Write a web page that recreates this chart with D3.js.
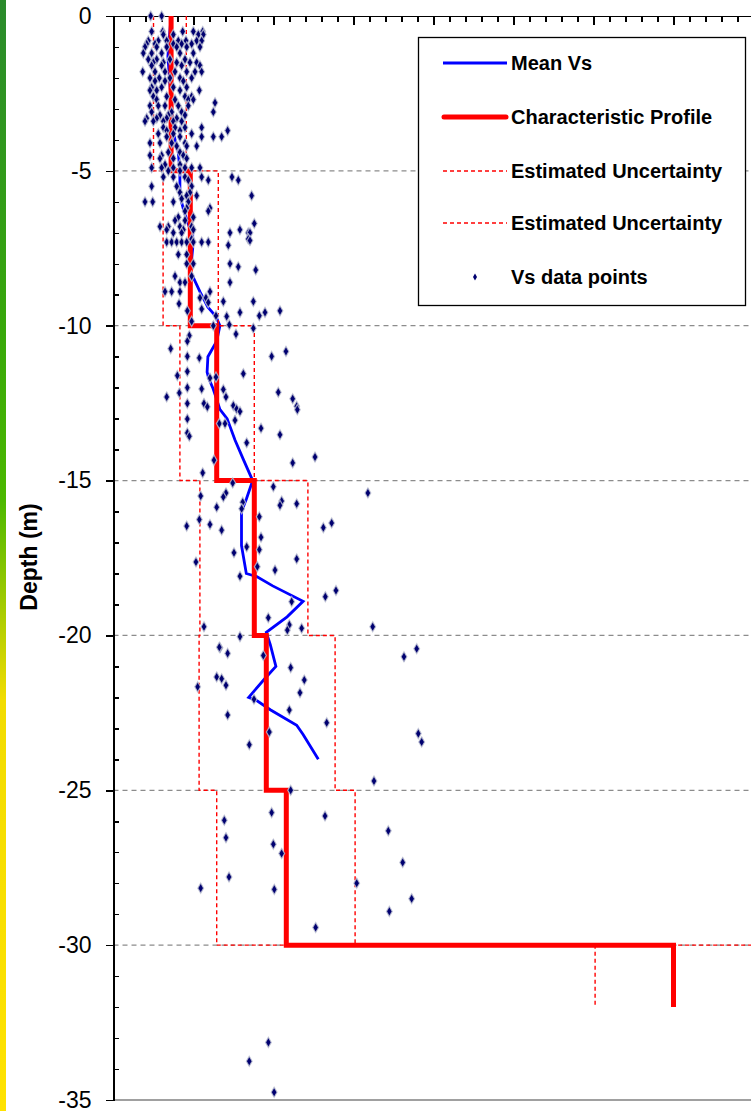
<!DOCTYPE html>
<html>
<head>
  <meta charset="utf-8">
  <title>Vs profile</title>
  <script src="https://d3js.org/d3.v7.min.js"></script>
  <style>
    body { margin: 0; background: #fff; }
    svg { display: block; font-family: "Liberation Sans", Arial, sans-serif; }
    .axis path, .axis line { fill: none; stroke: #000; stroke-width: 1.5; shape-rendering: crispEdges; }
    .ylab text { font-size: 23px; fill: #000; }
  </style>
</head>
<body>
<div id="chart"></div>
<script>
// layer boundaries (m) and the step profiles (Vs, m/s)
var layerTop    = [0, -5, -10, -15, -20, -25, -30];
var layerBottom = [-5, -10, -15, -20, -25, -30, -32];
var charVs  = [72, 96, 129, 176, 191, 216, 700];
var lowerVs = [50, 62, 83, 108, 107, 129, 602];
var upperVs = [91, 131, 176, 243, 277, 302, 900];

// mean Vs line
var meanDepth = [0, -1.3, -3.8, -4.4, -5, -5.8, -6.3, -6.9, -7.0, -7.5, -8.3, -8.4, -8.9, -9.4, -9.7, -10,
  -10.5, -11, -11.5, -11.7, -12, -12.3, -12.7, -13, -13.7, -14.3, -15, -15.6, -16, -17.1, -18, -18.1,
  -18.4, -18.9, -19.4, -19.9, -20.3, -21, -21.4, -22, -22.1, -22.4, -22.9, -23.2, -24];
var meanVs = [72, 68, 75, 81, 83, 83, 88, 96, 99, 99, 96, 99, 108, 118, 128, 133,
  129, 118, 117, 119, 124, 128, 133, 142, 152, 162, 174, 166, 160, 160, 166, 179,
  199, 237, 217, 191, 196, 203, 189, 169, 179, 196, 229, 237, 256];

// measured Vs points [Vs, depth]
var vsPoints = [
  [46.5,0],[60.2,0],
  [47.7,-0.5],[61.5,-0.5],[86.5,-0.5],[99.8,-0.5],[111.5,-0.5],
  [62.3,-0.6],[74.8,-0.6],[106,-0.6],[112.3,-0.6],
  [43.5,-0.8],[56,-0.8],[66.5,-0.8],[81,-0.8],[90.6,-0.8],[104,-0.8],[110.2,-0.8],
  [41.5,-0.9],[51.9,-0.9],[74.8,-0.9],[85.2,-0.9],[97.7,-0.9],
  [39.4,-1],[54,-1],[66.5,-1],[79,-1],[91.5,-1],[108.1,-1],
  [37.3,-1.2],[47.7,-1.2],[60.2,-1.2],[83.1,-1.2],[99.8,-1.2],
  [43.5,-1.4],[54,-1.4],[70.6,-1.4],[89.4,-1.4],
  [49.8,-1.5],[62.3,-1.5],[79,-1.5],[95.6,-1.5],[104,-1.5],
  [47.7,-1.6],[60.2,-1.6],[85.2,-1.6],[108.1,-1.6],
  [36.5,-1.8],[51.9,-1.8],[64.4,-1.8],[76.9,-1.8],[91.5,-1.8],[101.9,-1.8],[110.2,-1.8],
  [45.6,-2],[57.3,-2],[70.6,-2],[83.1,-2],[97.7,-2],
  [51.9,-2.1],[64.4,-2.1],[87.3,-2.1],
  [47.7,-2.3],[60.2,-2.3],[74.8,-2.3],[91.5,-2.3],
  [45.6,-2.4],[54,-2.4],[83.1,-2.4],[107.3,-2.4],
  [49.8,-2.6],[66.5,-2.6],[89.4,-2.6],[97.7,-2.6],
  [54,-2.7],[76.9,-2.7],[93.5,-2.7],[99.8,-2.7],
  [126.9,-2.8],
  [45.6,-2.9],[56,-2.9],[64.4,-2.9],[81,-2.9],[93.5,-2.9],
  [47.7,-3.1],[72.7,-3.1],[85.2,-3.1],[124.8,-3.1],
  [58.1,-3.2],[68.5,-3.2],[89.4,-3.2],
  [41.5,-3.3],[54,-3.3],[66.5,-3.3],[79,-3.3],
  [39.4,-3.4],[49.8,-3.4],[62.3,-3.4],[74.8,-3.4],[85.2,-3.4],
  [62.3,-3.6],[76.9,-3.6],[89.4,-3.6],[110.2,-3.6],
  [66.5,-3.7],[83.1,-3.7],[142.7,-3.7],
  [56,-3.8],[74.8,-3.8],[97.7,-3.8],
  [66.5,-3.9],[83.1,-3.9],[110.2,-3.9],[124.8,-3.9],[135.2,-3.9],
  [45.6,-4.1],[58.1,-4.1],[72.7,-4.1],[89.4,-4.1],
  [79,-4.2],[91.5,-4.2],[104,-4.2],
  [68.5,-4.4],[83.1,-4.4],
  [45.6,-4.5],[60.2,-4.5],[87.3,-4.5],
  [58.1,-4.6],[74.8,-4.6],[91.5,-4.6],
  [64.4,-4.8],[83.1,-4.8],
  [47.7,-4.9],[60.2,-4.9],[74.8,-4.9],[89.4,-4.9],[97.7,-4.9],[108.1,-4.9],
  [68.5,-5],[83.1,-5],
  [62.3,-5.2],[74.8,-5.2],[89.4,-5.2],[110.2,-5.2],[148.1,-5.2],
  [93.5,-5.3],[118.5,-5.3],[156,-5.3],
  [47.7,-5.5],[79,-5.5],[97.7,-5.5],
  [83.1,-5.7],[95.6,-5.7],
  [91.5,-5.8],[104,-5.8],[172.7,-5.8],
  [85.2,-5.9],
  [39.4,-6],[49,-6],[74.8,-6],[93.5,-6],
  [91.5,-6.2],[120.6,-6.2],
  [89.4,-6.3],[118.5,-6.3],
  [81,-6.5],[99.8,-6.5],
  [76.9,-6.6],[89.4,-6.6],
  [176,-6.7],
  [58.1,-6.8],[68.5,-6.8],[83.1,-6.8],[97.7,-6.8],
  [66.5,-6.9],[87.3,-6.9],[99.8,-6.9],[158,-6.9],
  [74.8,-7],[85.2,-7],[145.6,-7],[168.5,-7],[170.6,-7.0],
  [97.7,-7.2],[168.5,-7.2],[170.6,-7.25],
  [66.5,-7.3],[72.7,-7.3],[79,-7.3],[85.2,-7.3],[91.5,-7.3],[99.8,-7.3],[110.2,-7.3],[118.5,-7.3],
  [143.5,-7.4],
  [81,-7.7],[91.5,-7.7],
  [91.5,-8],[99.8,-8],[145.6,-8],
  [156,-8.1],[177.8,-8.2],
  [76.9,-8.4],[97.7,-8.4],
  [83.1,-8.6],[89.4,-8.6],[145.6,-8.6],
  [64.4,-8.9],[72.7,-8.9],[83.1,-8.9],[120.6,-8.9],
  [108.1,-9.1],[115.6,-9.1],
  [81.9,-9.29],[92.3,-9.52],[110.2,-9.46],[118.5,-9.25],[137.3,-9.22],[174.8,-9.22],
  [208.1,-9.52],[158.1,-9.57],[182.3,-9.68],[189.4,-9.57],[128.1,-9.68],[141.5,-9.7],
  [97.7,-9.86],[124.8,-10],[144.8,-9.97],[174.8,-10.08],[94.8,-10.32],[153.1,-10.27],
  [92.3,-10.5],[71.5,-10.74],[197.7,-10.99],[215.6,-10.83],[92.3,-10.99],[107.3,-11.04],
  [79.8,-11.61],[92.3,-11.48],[162.3,-11.55],[120.6,-11.69],[128.1,-11.66],
  [66.5,-12.3],[82.3,-12.17],[92.3,-12],[110.2,-12.04],[137.3,-12.06],[140.6,-12.3],
  [206,-12.15],[224,-12.36],[92.3,-12.51],[113.1,-12.51],[117.3,-12.62],[149.8,-12.58],
  [153.9,-12.69],[158.1,-12.77],[229,-12.6],[229.8,-12.71],
  [92.3,-13.01],[132.3,-13.16],[139.4,-13.16],[151.9,-13.05],[184.4,-13.31],[208.1,-13.52],
  [92.3,-13.46],[94.8,-13.57],[166.5,-13.78],[251.9,-14.24],[224,-14.43],[125.6,-14.34],
  [111.5,-14.75],[149,-15.08],[199.8,-15.2],[109,-15.5],[140.6,-15.4],[137.3,-15.53],
  [318,-15.4],
  [210.2,-15.66],[208.1,-15.8],[229,-15.75],[161.5,-15.7],[160.2,-15.91],[129,-15.86],
  [182.3,-16.17],[107.3,-16.26],[91.5,-16.47],[120.6,-16.42],[135.2,-16.6],[262.3,-16.52],
  [272.7,-16.37],[184.4,-16.83],[166.5,-17.14],[182.3,-17.23],[150.6,-17.33],[103.1,-17.63],
  [229,-17.53],[179.8,-17.78],[201.9,-17.89],[158.1,-18.09],[278.1,-18.55],[264.8,-18.75],
  [222.7,-18.91],[193.5,-19.43],[219.8,-19.66],[217.3,-19.83],[235.2,-19.77],[113.1,-19.72],
  [324,-19.72],[158.1,-20.04],[133.1,-20.4],
  [132.3,-20.38],[142.7,-20.58],[187.3,-20.65],[221.5,-21.04],[129,-21.34],[135.2,-21.4],
  [238.5,-21.44],[105.2,-21.66],[140.6,-21.61],[233.1,-21.85],[175.6,-22.06],[142.7,-22.57],
  [219.8,-22.41],[266.5,-22.82],[194.8,-23.12],[169.8,-23.53],[363.1,-20.69],[379,-20.43],
  [381,-23.17],[385.2,-23.44],[325.6,-24.7],[221.5,-25],[197.7,-25.72],[264.4,-25.83],
  [138.5,-25.97],[140.6,-26.53],[199.8,-26.74],[210.2,-27.04],[343.5,-26.31],[361.5,-27.33],
  [144.4,-27.8],[109,-28.16],[201,-28.2],[304,-28],[372.7,-28.5],[344.8,-28.91],[252.7,-29.43],
  [193.6,-33.14],[169.7,-33.75],[200.8,-34.75]
];

var yTicks = [0, -5, -10, -15, -20, -25, -30, -35];
var gridDepths = [-5, -10, -15, -20, -25, -30];
var legendLabels = ["Mean Vs", "Characteristic Profile", "Estimated Uncertainty", "Estimated Uncertainty", "Vs data points"];

var W = 751, H = 1111;
var plot = {left: 113.5, top: 16, right: 751, bottom: 1100};

var svg = d3.select("#chart").append("svg")
  .attr("width", W).attr("height", H);

// green-yellow strip on the left edge
var grad = svg.append("defs").append("linearGradient")
  .attr("id", "strip").attr("x1", 0).attr("y1", 0).attr("x2", 0).attr("y2", 1);
[["0", "#2a8a2c"], ["0.3", "#38a80a"], ["0.45", "#4cb800"], ["0.55", "#a8cc00"], ["0.63", "#f2dc00"], ["1", "#ffe200"]]
  .forEach(function(s) { grad.append("stop").attr("offset", s[0]).attr("stop-color", s[1]); });
svg.append("rect").attr("x", 0).attr("y", 0).attr("width", 6).attr("height", H).attr("fill", "url(#strip)");

var x = d3.scaleLinear().domain([0, 800]).range([plot.left, plot.left + 640]);
var y = d3.scaleLinear().domain([0, -35]).range([plot.top, plot.bottom]);

// dashed grey gridlines
svg.append("g").selectAll("line")
  .data(gridDepths)
  .enter().append("line")
    .attr("x1", plot.left).attr("x2", plot.right)
    .attr("y1", function(d) { return y(d); }).attr("y2", function(d) { return y(d); })
    .attr("stroke", "#8c8c8c").attr("stroke-width", 1.2).attr("stroke-dasharray", "5,4");

// bottom border
svg.append("line")
  .attr("x1", plot.left).attr("x2", plot.right)
  .attr("y1", y(-35)).attr("y2", y(-35))
  .attr("stroke", "#a0a0a0").attr("stroke-width", 2);

// top axis, ticks pointing into the plot, no labels
svg.append("g").attr("class", "axis")
  .attr("transform", "translate(0," + plot.top + ")")
  .call(d3.axisBottom(x).tickValues(d3.range(20, 800, 20).filter(function(v) { return v % 100 != 0; }))
    .tickSize(6).tickSizeOuter(0).tickFormat(""));
svg.append("g").attr("class", "axis")
  .attr("transform", "translate(0," + plot.top + ")")
  .call(d3.axisBottom(x).tickValues(d3.range(100, 800, 100)).tickSize(9).tickSizeOuter(0).tickFormat(""));

// left axis: major ticks outside with labels, minor ticks inside
svg.append("g").attr("class", "axis ylab")
  .attr("transform", "translate(" + plot.left + ",0)")
  .call(d3.axisLeft(y).tickValues(yTicks).tickSize(8).tickSizeOuter(0).tickPadding(14)
    .tickFormat(function(d) { return String(d); }));
svg.append("g").attr("class", "axis")
  .attr("transform", "translate(" + plot.left + ",0)")
  .call(d3.axisRight(y).tickValues(d3.range(-1, -35, -1).filter(function(v) { return v % 5 != 0; }))
    .tickSize(5).tickSizeOuter(0).tickFormat(""));
svg.selectAll(".ylab text").attr("font-family", "Liberation Sans, Arial, sans-serif");

svg.append("text")
  .attr("transform", "translate(37," + 557 + ") rotate(-90)")
  .attr("text-anchor", "middle")
  .attr("font-size", 23)
  .attr("font-weight", "bold")
  .text("Depth (m)");

// step profiles
function stepPoints(vals) {
  var pts = [];
  vals.forEach(function(v, i) {
    pts.push([v, layerTop[i]]);
    pts.push([v, layerBottom[i]]);
  });
  return pts;
}
var line = d3.line().x(function(d) { return x(d[0]); }).y(function(d) { return y(d[1]); });

svg.append("path")
  .datum(d3.zip(meanVs, meanDepth))
  .attr("d", line)
  .attr("fill", "none").attr("stroke", "#0000ff").attr("stroke-width", 2.8);

svg.append("path")
  .datum(stepPoints(charVs))
  .attr("d", line)
  .attr("fill", "none").attr("stroke", "#ff0000").attr("stroke-width", 5);

[lowerVs, upperVs].forEach(function(vals) {
  svg.append("path")
    .datum(stepPoints(vals))
    .attr("d", line)
    .attr("fill", "none").attr("stroke", "#ff0000").attr("stroke-width", 1.4).attr("stroke-dasharray", "4,3");
});

// data points
var diamond = d3.symbol().type(d3.symbolDiamond).size(30);
svg.append("g").selectAll("path")
  .data(vsPoints)
  .enter().append("path")
    .attr("transform", function(d) { return "translate(" + x(d[0]) + "," + y(d[1]) + ")"; })
    .attr("d", diamond)
    .attr("fill", "#000070")
    .attr("stroke", "#c0c4d4").attr("stroke-width", 1.2).attr("stroke-opacity", 0.8);

// legend
var lg = svg.append("g");
lg.append("rect")
  .attr("x", 418.5).attr("y", 37.5).attr("width", 327).attr("height", 268)
  .attr("fill", "#fff").attr("stroke", "#000").attr("stroke-width", 1.3);
var rowY = [63, 117, 171, 223, 277];
legendLabels.forEach(function(label, i) {
  var ry = rowY[i];
  if (i == 0) {
    lg.append("line").attr("x1", 443).attr("x2", 507).attr("y1", ry).attr("y2", ry)
      .attr("stroke", "#0000ff").attr("stroke-width", 2.8);
  } else if (i == 1) {
    lg.append("line").attr("x1", 444).attr("x2", 506).attr("y1", ry).attr("y2", ry)
      .attr("stroke", "#ff0000").attr("stroke-width", 5).attr("stroke-linecap", "round");
  } else if (i < 4) {
    lg.append("line").attr("x1", 443).attr("x2", 507).attr("y1", ry).attr("y2", ry)
      .attr("stroke", "#ff0000").attr("stroke-width", 1.4).attr("stroke-dasharray", "4,3");
  } else {
    lg.append("path").attr("transform", "translate(475," + ry + ")")
      .attr("d", d3.symbol().type(d3.symbolDiamond).size(14)).attr("fill", "#000070");
  }
  lg.append("text")
    .attr("x", 511).attr("y", ry).attr("dy", "0.36em")
    .attr("font-size", 20).attr("font-weight", "bold")
    .text(label);
});
</script>
</body>
</html>
